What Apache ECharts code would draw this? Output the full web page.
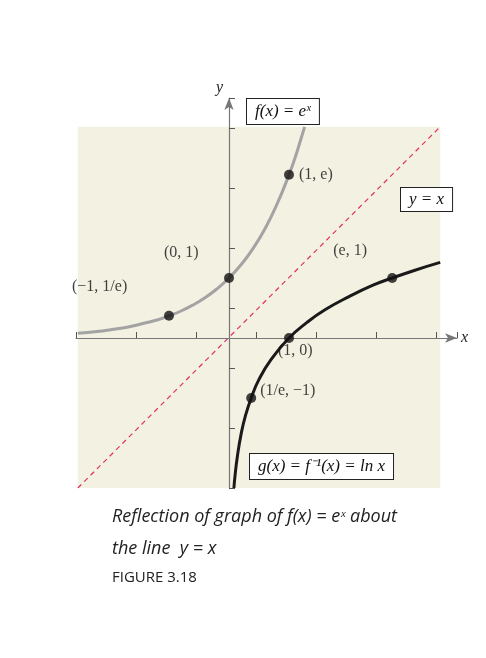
<!DOCTYPE html>
<html>
<head>
<meta charset="UTF-8">
<script src="https://cdn.jsdelivr.net/npm/echarts@6/dist/echarts.min.js"></script>
<style>html,body{margin:0;background:#fff}#main{width:486px;height:658px}</style>
</head>
<body>
<div id="main"></div>
<script>
// f(x) = e^x
var expX = [-2.52, -2.2, -2, -1.7, -1.4, -1.2, -1, -0.8, -0.6, -0.4, -0.2, 0, 0.2, 0.4, 0.6, 0.8, 1, 1.1, 1.2, 1.26];
var expY = [0.08, 0.11, 0.135, 0.18, 0.25, 0.30, 0.37, 0.45, 0.55, 0.67, 0.82, 1, 1.22, 1.49, 1.82, 2.23, 2.72, 3.0, 3.32, 3.52];
// g(x) = ln x
var lnX = [0.082, 0.1, 0.14, 0.2, 0.27, 0.37, 0.5, 0.7, 1, 1.3, 1.6, 2, 2.4, 2.72, 3.1, 3.52];
var lnY = [-2.5, -2.3, -1.97, -1.61, -1.31, -1, -0.69, -0.36, 0, 0.26, 0.47, 0.69, 0.88, 1, 1.13, 1.26];
var dots = [[1, 2.72, '(1, e)'], [0, 1, '(0, 1)'], [-1, 0.37, '(−1, 1/e)'], [1, 0, '(1, 0)'], [2.72, 1, '(e, 1)'], [0.37, -1, '(1/e, −1)']];
var xTicks = [-2, -1, 2, 3];
var yTicks = [-2, -1, 2, 3];

var serif = 'Liberation Serif';
var myChart = echarts.init(document.getElementById('main'));
var zip = (a, b) => a.map((v, i) => [v, b[i]]);
var dotPos = { '(1, e)': 'right', '(0, 1)': [-60, -28], '(−1, 1/e)': [-92, -32], '(1, 0)': [-6, 10], '(e, 1)': [-54, -30], '(1/e, −1)': [14, -10] };

myChart.setOption({
  animation: false,
  grid: { left: 76, right: 29, top: 98, bottom: 170 },
  xAxis: {
    type: 'value', min: -2.55, max: 3.8, interval: 1, z: 10,
    axisLine: { onZero: true, symbol: ['none', 'arrow'], symbolSize: [7, 12], lineStyle: { color: '#777', width: 1.2 } },
    axisTick: { show: true, inside: true, length: 6, lineStyle: { color: '#555' } },
    axisLabel: { formatter: v => xTicks.indexOf(v) >= 0 ? String(v).replace('-', '−') : '', fontFamily: serif, fontSize: 15, color: '#222', margin: 10 },
    splitLine: { show: false },
    name: 'x', nameGap: 4, nameTextStyle: { fontFamily: serif, fontStyle: 'italic', fontSize: 16, color: '#222' }
  },
  yAxis: {
    type: 'value', min: -2.5, max: 4, interval: 1, z: 10,
    axisLine: { onZero: true, symbol: ['none', 'arrow'], symbolSize: [7, 12], lineStyle: { color: '#777', width: 1.2 } },
    axisTick: { show: true, inside: true, length: 6, lineStyle: { color: '#555' } },
    axisLabel: { formatter: v => yTicks.indexOf(v) >= 0 ? String(v).replace('-', '−') : '', fontFamily: serif, fontSize: 15, color: '#222', margin: 12 },
    splitLine: { show: false },
    name: 'y', nameGap: 2, nameLocation: 'end', nameTextStyle: { fontFamily: serif, fontStyle: 'italic', fontSize: 16, color: '#222', align: 'right', padding: [0, 6, 0, 0] }
  },
  series: [
    {
      type: 'line', data: [[-2.52, -2.5], [3.52, 3.52]], showSymbol: false, z: 1,
      lineStyle: { color: '#e0306a', width: 1.2, type: [5, 4] },
      markArea: { silent: true, itemStyle: { color: '#f3f1e2' }, data: [[{ coord: [-2.52, -2.5] }, { coord: [3.52, 3.52] }]] }
    },
    { type: 'line', data: zip(expX, expY), smooth: true, showSymbol: false, lineStyle: { color: '#a3a3a3', width: 3 }, z: 12 },
    { type: 'line', data: zip(lnX, lnY), smooth: true, showSymbol: false, lineStyle: { color: '#1a1a1a', width: 3 }, z: 12 },
    {
      type: 'scatter', data: dots.map(d => ({ value: [d[0], d[1]], label: { position: dotPos[d[2]] } })),
      symbolSize: 10, itemStyle: { color: '#111' }, z: 15,
      label: { show: true, formatter: p => dots[p.dataIndex][2], fontFamily: serif, fontSize: 16, color: '#111' }
    }
  ],
  graphic: [
    { type: 'text', z: 100, left: 246, top: 98, style: { text: 'f(x) = eˣ', font: 'italic 17px "Liberation Serif"', fill: '#111', backgroundColor: '#fff', borderColor: '#222', borderWidth: 1, padding: [4, 8] } },
    { type: 'text', z: 100, left: 400, top: 187, style: { text: 'y = x', font: 'italic 17px "Liberation Serif"', fill: '#111', backgroundColor: '#fff', borderColor: '#222', borderWidth: 1, padding: [3, 8] } },
    { type: 'text', z: 100, left: 249, top: 453, style: { text: 'g(x) = f⁻¹(x) = ln x', font: 'italic 17px "Liberation Serif"', fill: '#111', backgroundColor: '#fff', borderColor: '#222', borderWidth: 1, padding: [4, 8] } },
    { type: 'text', left: 112, top: 508, style: { text: 'Reflection of graph of f(x) = eˣ about', font: 'italic 18px "Open Sans"', fill: '#222' } },
    { type: 'text', left: 112, top: 540, style: { text: 'the line  y = x', font: 'italic 18px "Open Sans"', fill: '#222' } },
    { type: 'text', left: 112, top: 570, style: { text: 'FIGURE 3.18', font: '15px "Open Sans"', fill: '#222' } }
  ]
});
</script>
</body>
</html>
